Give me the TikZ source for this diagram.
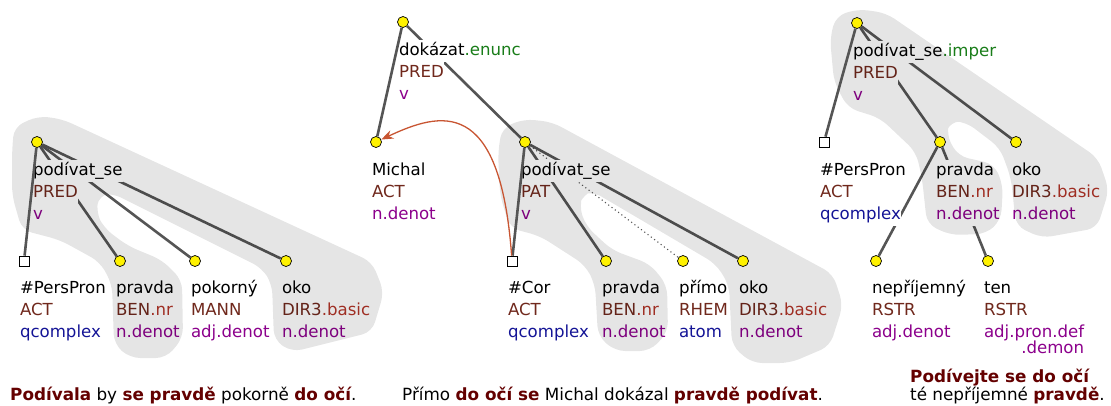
\documentclass[tikz,border=0pt]{standalone}
\usepackage{fontspec}
\setmainfont{DejaVu Sans}
\usetikzlibrary{arrows.meta}
\pgfdeclarelayer{edgelayer}
\pgfdeclarelayer{labellayer}
\pgfdeclarelayer{hulllayer}
\pgfsetlayers{edgelayer,labellayer,hulllayer,main}
\definecolor{edgec}{RGB}{85,85,85}
\definecolor{fun}{RGB}{112,40,28}
\definecolor{sfx}{RGB}{178,52,40}
\definecolor{pur}{RGB}{140,0,140}
\definecolor{blu}{RGB}{20,20,150}
\definecolor{grn}{RGB}{25,125,25}
\definecolor{snt}{RGB}{100,0,0}
\definecolor{corc}{RGB}{200,85,50}
\setlength{\fboxsep}{0pt}
\newcommand\rw[1]{\hbox{\colorbox{white}{\strut #1}}}
\newcommand\lab[1]{\vtop{\baselineskip=22pt\lineskiplimit=-50pt\lineskip=0pt #1}}
\newcommand\hl[1]{{\bfseries\color{snt}#1}}
\begin{document}
\begin{tikzpicture}[x=1pt,y=-1pt,font=\fontsize{16.6}{22}\selectfont,
  yn/.style={circle,draw=black,line width=0.7pt,fill=yellow,minimum size=11pt,inner sep=0pt},
  sq/.style={rectangle,draw=black,line width=0.7pt,fill=white,minimum size=10pt,inner sep=0pt},
  lbl/.style={anchor=base west,inner sep=0pt,outer sep=0pt},
  tedge/.style={draw=edgec,line width=2.6pt},
  dotedge/.style={draw=edgec,line width=1.1pt,dash pattern=on 1.1pt off 3pt},
  hull/.style={fill=black,fill opacity=0.1,rounded corners=10pt},
  coref/.style={draw=corc,line width=1.3pt,-{Stealth[length=12pt,width=9pt]}},
  sent/.style={anchor=base west,inner sep=0pt,font=\fontsize{16.8}{22}\selectfont}]
\useasboundingbox (0,0) rectangle (1111,405);

% ---------- tree 1 ----------
\node[yn] (r1) at (37,142) {};
\node[sq] (a1) at (24,261) {};
\node[yn] (b1) at (120,261) {};
\node[yn] (c1) at (195,261) {};
\node[yn] (d1) at (286,261) {};
% ---------- tree 2 ----------
\node[yn] (r2) at (403,22) {};
\node[yn] (m2) at (376,142) {};
\node[yn] (p2) at (525,142) {};
\node[sq] (a2) at (512,261) {};
\node[yn] (b2) at (606,261) {};
\node[yn] (c2) at (683,261) {};
\node[yn] (d2) at (743,261) {};
% ---------- tree 3 ----------
\node[yn] (r3) at (857,23) {};
\node[sq] (a3) at (824,142) {};
\node[yn] (b3) at (940,142) {};
\node[yn] (d3) at (1016,142) {};
\node[yn] (e3) at (876,261) {};
\node[yn] (f3) at (988,261) {};

\begin{pgfonlayer}{edgelayer}
\draw[tedge] (r1) -- (b1);
\draw[tedge] (r1) -- (c1);
\draw[tedge] (r1) -- (d1);
\draw[tedge] (r2) -- (p2);
\draw[tedge] (p2) -- (b2);
\draw[dotedge] (p2) -- (c2);
\draw[tedge] (p2) -- (d2);
\draw[tedge] (r3) -- (b3);
\draw[tedge] (r3) -- (d3);
\draw[tedge] (b3) -- (e3);
\draw[tedge] (b3) -- (f3);
\end{pgfonlayer}

\begin{pgfonlayer}{labellayer}
\node[lbl] (r1l) at (33,175) {\lab{\rw{podívat\_se}\rw{\color{fun}PRED}\rw{\color{pur}v}}};
\node[lbl] (a1l) at (20,293) {\lab{\rw{\#PersPron}\rw{\color{fun}ACT}\rw{\color{blu}qcomplex}}};
\node[lbl] (b1l) at (116,293) {\lab{\rw{pravda}\rw{\color{fun}BEN{\color{sfx}.nr}}\rw{\color{pur}n.denot}}};
\node[lbl] (c1l) at (191,293) {\lab{\rw{pokorný}\rw{\color{fun}MANN}\rw{\color{pur}adj.denot}}};
\node[lbl] (d1l) at (282,293) {\lab{\rw{oko}\rw{\color{fun}DIR3{\color{sfx}.basic}}\rw{\color{pur}n.denot}}};

\node[lbl] (r2l) at (399,55) {\lab{\rw{dokázat{\color{grn}.enunc}}\rw{\color{fun}PRED}\rw{\color{pur}v}}};
\node[lbl] (m2l) at (372,175) {\lab{\rw{Michal}\rw{\color{fun}ACT}\rw{\color{pur}n.denot}}};
\node[lbl] (p2l) at (521,175) {\lab{\rw{podívat\_se}\rw{\color{fun}PAT}\rw{\color{pur}v}}};
\node[lbl] (a2l) at (508,293) {\lab{\rw{\#Cor}\rw{\color{fun}ACT}\rw{\color{blu}qcomplex}}};
\node[lbl] (b2l) at (602,293) {\lab{\rw{pravda}\rw{\color{fun}BEN{\color{sfx}.nr}}\rw{\color{pur}n.denot}}};
\node[lbl] (c2l) at (679,293) {\lab{\rw{přímo}\rw{\color{fun}RHEM}\rw{\color{blu}atom}}};
\node[lbl] (d2l) at (739,293) {\lab{\rw{oko}\rw{\color{fun}DIR3{\color{sfx}.basic}}\rw{\color{pur}n.denot}}};

\node[lbl] (r3l) at (853,56) {\lab{\rw{podívat\_se{\color{grn}.imper}}\rw{\color{fun}PRED}\rw{\color{pur}v}}};
\node[lbl] (a3l) at (820,175) {\lab{\rw{\#PersPron}\rw{\color{fun}ACT}\rw{\color{blu}qcomplex}}};
\node[lbl] (b3l) at (936,175) {\lab{\rw{pravda}\rw{\color{fun}BEN{\color{sfx}.nr}}\rw{\color{pur}n.denot}}};
\node[lbl] (d3l) at (1012,175) {\lab{\rw{oko}\rw{\color{fun}DIR3{\color{sfx}.basic}}\rw{\color{pur}n.denot}}};
\node[lbl] (e3l) at (872,293) {\lab{\rw{nepříjemný}\rw{\color{fun}RSTR}\rw{\color{pur}adj.denot}}};
\node[lbl] (f3l) at (984,293) {\lab{\rw{ten}\rw{\color{fun}RSTR}\rw{\color{pur}adj.pron.def}\vskip-6pt\hbox{\strut\color{pur}\phantom{adj.pron.def}\llap{.demon}}}};
\end{pgfonlayer}

\begin{pgfonlayer}{hulllayer}
\fill[hull] (12,152) -- (14,127) -- (38,116) -- (62,119) -- (372,262) -- (384,292) -- (372,332) -- (292,352) -- (274,340) -- (272,284) -- (262,268) -- (112,193) -- (99,195) -- (96,212) -- (104,228) -- (128,246) -- (162,260) -- (182,280) -- (183,338) -- (166,358) -- (130,358) -- (114,344) -- (112,284) -- (100,262) -- (60,240) -- (22,230) -- (12,195) -- cycle;
\fill[hull] (498,152) -- (502,128) -- (524,119) -- (552,122) -- (833,274) -- (843,305) -- (830,346) -- (790,363) -- (752,363) -- (732,346) -- (729,285) -- (716,264) -- (592,191) -- (583,194) -- (579,206) -- (586,226) -- (612,250) -- (650,264) -- (667,285) -- (668,332) -- (650,351) -- (615,351) -- (598,336) -- (595,284) -- (585,265) -- (540,236) -- (510,228) -- (500,195) -- cycle;
\fill[hull] (830,38) -- (836,16) -- (858,9) -- (886,13) -- (1098,158) -- (1109,190) -- (1097,228) -- (1042,238) -- (1016,226) -- (1011,178) -- (1000,148) -- (966,122) -- (950,121) -- (946,134) -- (958,156) -- (994,164) -- (1003,185) -- (1001,220) -- (986,234) -- (950,235) -- (927,224) -- (922,178) -- (916,152) -- (880,118) -- (848,108) -- (834,82) -- cycle;
\end{pgfonlayer}

% edges to the left children (drawn over the labels)
\draw[tedge] (r1) -- (a1);
\draw[tedge] (r2) -- (m2);
\draw[tedge] (p2) -- (a2);
\draw[tedge] (r3) -- (a3);

% coreference arrow
\draw[coref] (a2) .. controls (500,95) and (440,112) .. (m2);

% sentences
\node[sent] (s1) at (10,400) {\hl{Podívala} by \hl{se pravdě} pokorně \hl{do očí}.};
\node[sent] (s2) at (402,400) {Přímo \hl{do očí se} Michal dokázal \hl{pravdě podívat}.};
\node[sent] (s3a) at (910,382) {\hl{Podívejte se do očí}};
\node[sent] (s3b) at (910,400) {té nepříjemné \hl{pravdě}.};
\end{tikzpicture}
\end{document}
